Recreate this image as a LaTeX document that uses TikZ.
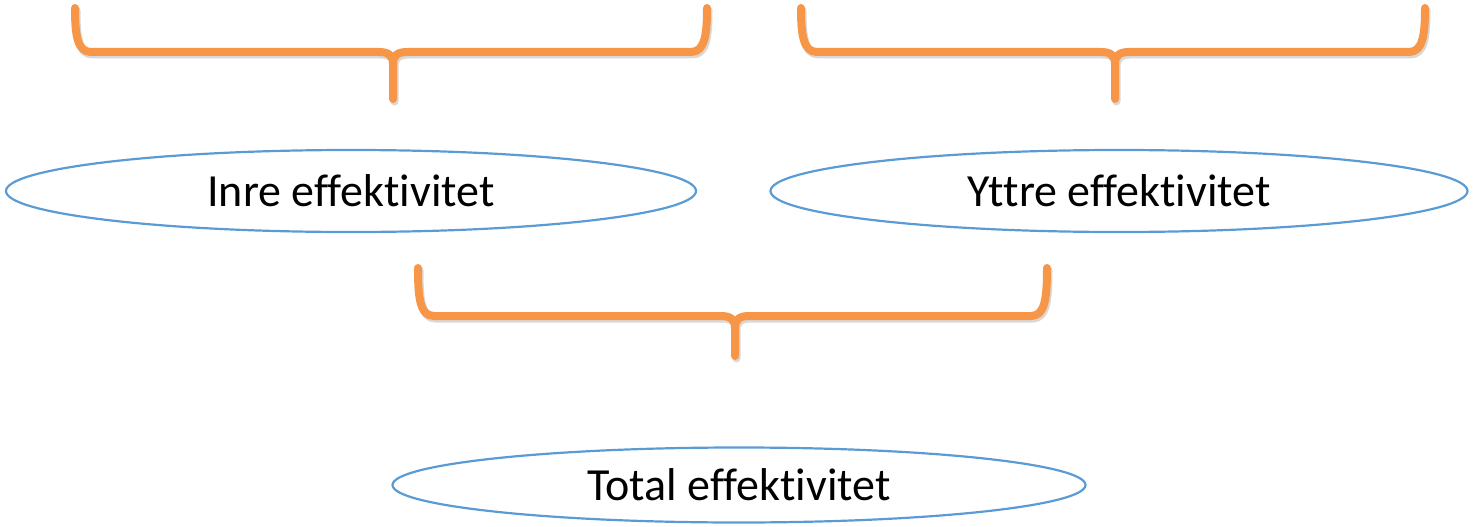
\documentclass[tikz,border=0pt]{standalone}
\usepackage{fontspec}
\setmainfont{Carlito}[RawFeature={-liga;-clig;-dlig}]
\usetikzlibrary{shapes.geometric}
\definecolor{braceorange}{HTML}{F79646}
\definecolor{ellblue}{HTML}{5B9BD5}
\tikzset{
  bracepath/.style={draw=braceorange, line width=8pt, line cap=round, line join=round},
  braceshadow/.style={draw=black!30, line width=8pt, line cap=round, line join=round},
  ovalnode/.style={draw=ellblue, line width=2.2pt, ellipse, inner sep=0pt, font=\fontsize{46}{50}\selectfont}
}
\begin{document}
\begin{tikzpicture}[x=1pt,y=-1pt]
\useasboundingbox (0,0) rectangle (1473,527);
% braces
\foreach \l/\m/\r/\t/\h/\b in {75/393/707/8/52/99, 801/1115/1425/8/52/99, 418/735/1047/268/316/356}{
  \draw[braceshadow, opacity=0.5, shift={(1.5,2.5)}]
    (\l,\t) .. controls (\l,\h-18) and (\l+2,\h) .. (\l+16,\h) -- (\m-14,\h)
    .. controls (\m-5,\h) and (\m,\h+3) .. (\m,\h+12) -- (\m,\b)
    (\m,\h+12) .. controls (\m,\h+3) and (\m+5,\h) .. (\m+14,\h) -- (\r-16,\h)
    .. controls (\r-2,\h) and (\r,\h-18) .. (\r,\t);
  \draw[bracepath]
    (\l,\t) .. controls (\l,\h-18) and (\l+2,\h) .. (\l+16,\h) -- (\m-14,\h)
    .. controls (\m-5,\h) and (\m,\h+3) .. (\m,\h+12) -- (\m,\b)
    (\m,\h+12) .. controls (\m,\h+3) and (\m+5,\h) .. (\m+14,\h) -- (\r-16,\h)
    .. controls (\r-2,\h) and (\r,\h-18) .. (\r,\t);
}
\node[ovalnode, minimum width=690pt, minimum height=82pt] (inre) at (351,191) {Inre effektivitet};
\node[ovalnode, minimum width=697pt, minimum height=82pt] (yttre) at (1119,191) {Yttre effektivitet};
\node[ovalnode, minimum width=693pt, minimum height=75pt] (total) at (739,485) {Total effektivitet};
\end{tikzpicture}
\end{document}
